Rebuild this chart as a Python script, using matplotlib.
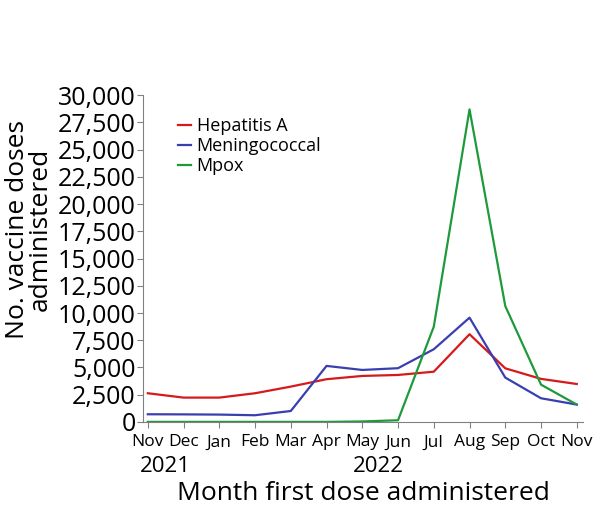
import numpy as np
import matplotlib.pyplot as plt
import matplotlib.transforms as mtransforms

plt.rcParams['font.family'] = ['Open Sans', 'DejaVu Sans']

months = ["Nov", "Dec", "Jan", "Feb", "Mar", "Apr", "May", "Jun",
          "Jul", "Aug", "Sep", "Oct", "Nov"]
years = ["2021", "2022"]
year_pos = [0.5, 6.45]

hepatitis_a = [2630, 2230, 2230, 2630, 3240, 3920, 4220, 4310, 4610, 8050, 4920, 3950, 3480]
meningococcal = [700, 690, 670, 610, 1000, 5140, 4770, 4930, 6670, 9570, 4070, 2170, 1590]
mpox = [0, 0, 0, 0, 0, 0, 40, 150, 8740, 28700, 10640, 3420, 1590]

fig = plt.figure(figsize=(6, 5.12), dpi=100)
ax = fig.add_axes([0.238, 0.176, 0.734, 0.638])

x = np.arange(len(months))
ax.plot(x, hepatitis_a, color="#d7191c", lw=1.6, label="Hepatitis A")
ax.plot(x, meningococcal, color="#3a3fb0", lw=1.6, label="Meningococcal")
ax.plot(x, mpox, color="#1f9a3a", lw=1.6, label="Mpox")

ax.set_xlim(-0.14, 12.18)
ax.set_ylim(0, 30000)
ax.set_yticks(np.arange(0, 30001, 2500))
ax.set_yticklabels([f"{v:,}" for v in range(0, 30001, 2500)], fontsize=18)
ax.set_xticks(x)
ax.set_xticklabels(months, fontsize=12.5)

for s in ["top", "right"]:
    ax.spines[s].set_visible(False)
for s in ["left", "bottom"]:
    ax.spines[s].set_color("#808080")
ax.tick_params(color="#808080", length=4)
ax.tick_params(axis="y", pad=1)
ax.tick_params(axis="x", pad=5)

trans = mtransforms.blended_transform_factory(ax.transData, ax.transAxes)
for yr, p in zip(years, year_pos):
    ax.text(p, -0.105, yr, transform=trans, ha="center", va="top", fontsize=16)

ax.set_xlabel("Month first dose administered", fontsize=19, labelpad=22)
ax.set_ylabel("No. vaccine doses\nadministered", fontsize=19, linespacing=0.85)
ax.yaxis.set_label_coords(-0.205, 0.59)

ax.legend(loc="upper left", bbox_to_anchor=(0.063, 0.955), frameon=False, fontsize=13,
          handlelength=0.75, handletextpad=0.3, labelspacing=0.12, borderaxespad=0)

fig.savefig("out.png", dpi=100)
